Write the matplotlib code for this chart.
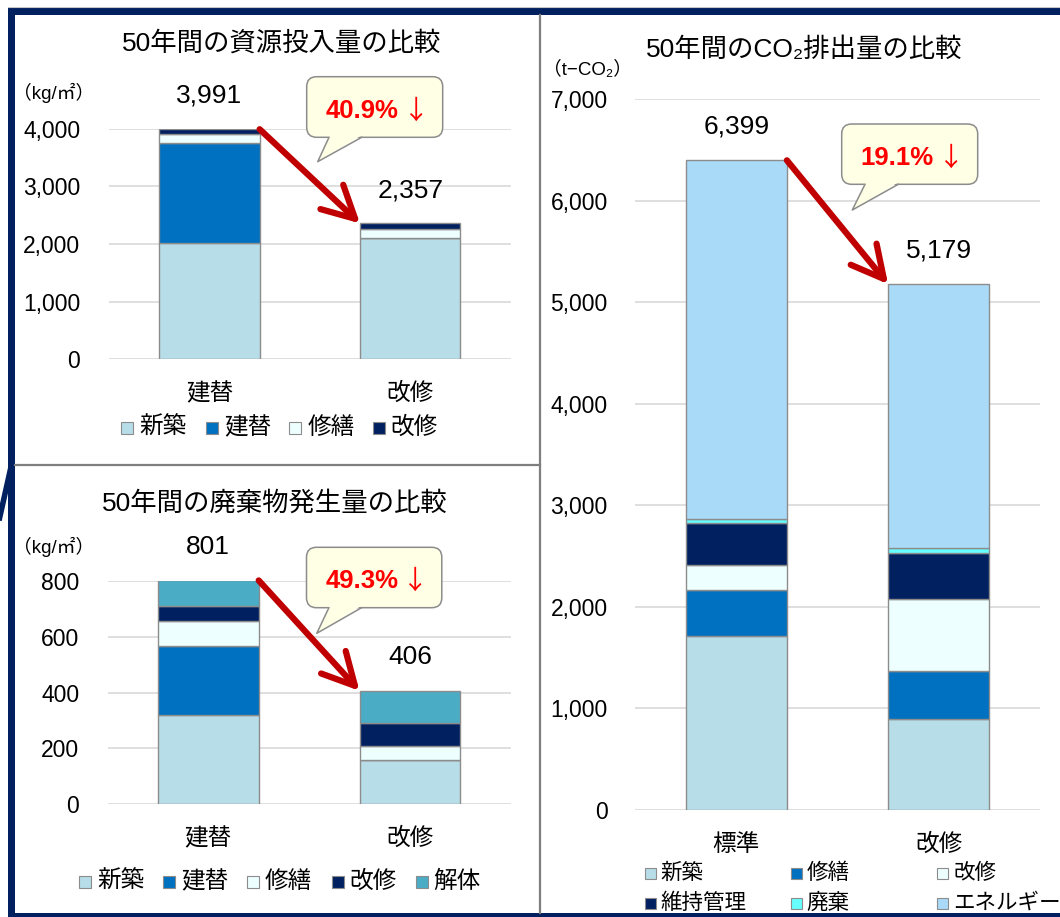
import matplotlib
matplotlib.use('Agg')
import matplotlib.pyplot as plt
from matplotlib.patches import Rectangle, FancyBboxPatch, Polygon

plt.rcParams['font.family'] = ['Liberation Sans', 'Noto Sans CJK JP', 'DejaVu Sans']

W, H = 1060, 917

# 50年間の資源投入量 (kg/㎡)
res_cats = ['建替', '改修']
res_labels = ['新築', '建替', '修繕', '改修']
res_shinchiku = [2025, 2110]
res_tatekae = [1730, 0]
res_shuzen = [150, 150]
res_kaishu = [86, 97]

# 50年間の廃棄物発生量 (kg/㎡)
waste_cats = ['建替', '改修']
waste_labels = ['新築', '建替', '修繕', '改修', '解体']
waste_shinchiku = [320, 158]
waste_tatekae = [246, 0]
waste_shuzen = [90, 51]
waste_kaishu = [52, 82]
waste_kaitai = [93, 115]

# 50年間のCO2排出量 (t-CO2)
co2_cats = ['標準', '改修']
co2_labels = ['新築', '修繕', '改修', '維持管理', '廃棄', 'エネルギー']
co2_shinchiku = [1713, 893]
co2_shuzen = [452, 478]
co2_kaishu = [246, 706]
co2_iji = [417, 455]
co2_haiki = [43, 47]
co2_energy = [3528, 2600]

NAVY = '#002060'
C_NEW = '#B7DDE8'
C_BLUE = '#0070C0'
C_WHITE = '#EEFFFF'
C_DARK = '#002060'
C_TEAL = '#4BACC6'
C_CYAN = '#66FFFF'
C_SKY = '#A9DBF9'
EDGE = '#8C8C8C'

fig = plt.figure(figsize=(W / 100, H / 100), dpi=100)


def px_axes(x0, y_top, x1, y_bot):
    return fig.add_axes([x0 / W, 1 - y_bot / H, (x1 - x0) / W, (y_bot - y_top) / H])


def stacked(ax, cats, series, colors, ymax, step, ypad):
    x = list(range(len(cats)))
    bottoms = [0] * len(cats)
    for vals, c in zip(series, colors):
        ax.bar(x, vals, 0.5, bottom=bottoms, color=c, edgecolor=EDGE, linewidth=1.0, zorder=3)
        bottoms = [b + v for b, v in zip(bottoms, vals)]
    ax.set_xlim(-0.5, len(cats) - 0.5)
    ax.set_ylim(0, ymax)
    ax.set_yticks(range(0, ymax + 1, step))
    ax.yaxis.set_major_formatter(lambda v, p: f'{v:,.0f}')
    ax.set_xticks(x)
    ax.set_xticklabels(cats, fontsize=17)
    ax.tick_params(axis='y', length=0, pad=ypad, labelsize=16.5)
    ax.tick_params(axis='x', length=0, pad=17)
    ax.grid(axis='y', color='#D9D9D9', linewidth=1.2, zorder=0)
    ax.set_axisbelow(True)
    for s in ax.spines.values():
        s.set_visible(False)
    ax.patch.set_alpha(0)
    # 合計値と矢印
    for i, t in enumerate(bottoms):
        ax.annotate(f'{t:,}', xy=(i, t), xytext=(0, 24), textcoords='offset points',
                    ha='center', va='center', fontsize=19)
    ax.annotate('', xy=(0.75, bottoms[1]), xytext=(0.25, bottoms[0]),
                arrowprops=dict(arrowstyle='->,head_length=2.3,head_width=1.2', mutation_scale=10,
                                color='#C00000', lw=4.5, shrinkA=0, shrinkB=0))
    return bottoms


ax1 = px_axes(109, 128.7, 510.7, 359.3)
tot1 = stacked(ax1, res_cats, [res_shinchiku, res_tatekae, res_shuzen, res_kaishu],
               [C_NEW, C_BLUE, C_WHITE, C_DARK], 4000, 1000, 20.7)

ax2 = px_axes(107.5, 580.7, 510.7, 804.3)
tot2 = stacked(ax2, waste_cats, [waste_shinchiku, waste_tatekae, waste_shuzen, waste_kaishu, waste_kaitai],
               [C_NEW, C_BLUE, C_WHITE, C_DARK, C_TEAL], 800, 200, 20.4)

ax3 = px_axes(635, 99.3, 1040, 810)
tot3 = stacked(ax3, co2_cats, [co2_shinchiku, co2_shuzen, co2_kaishu, co2_iji, co2_haiki, co2_energy],
               [C_NEW, C_BLUE, C_WHITE, C_DARK, C_CYAN, C_SKY], 7000, 1000, 19.7)

# 枠・吹き出し・凡例 (ピクセル座標)
ov = fig.add_axes([0, 0, 1, 1])
ov.set_xlim(0, W)
ov.set_ylim(H, 0)
ov.axis('off')

ov.plot([8, W], [7, 7], color='#C8C8C8', lw=0.8)
ov.add_patch(Rectangle((8, 8), W, 7, fc=NAVY, ec='none'))
ov.add_patch(Rectangle((8, 8), 7, H, fc=NAVY, ec='none'))
ov.add_patch(Rectangle((8, 913), W, 10, fc=NAVY, ec='none'))
ov.plot([-2, 11], [525, 467], color=NAVY, lw=4, solid_capstyle='butt')
ov.plot([540, 540], [15, 913], color='#7F7F7F', lw=1.6)
ov.plot([15, 540], [465, 465], color='#7F7F7F', lw=1.6)

ov.text(282, 43, '50年間の資源投入量の比較', fontsize=19, ha='center', va='center')
ov.text(274.6, 503, '50年間の廃棄物発生量の比較', fontsize=19, ha='center', va='center')
ov.text(804, 50, '50年間のCO₂排出量の比較', fontsize=19, ha='center', va='center')
ov.text(13, 93, '（kg/㎡）', fontsize=13.5, ha='left', va='center')
ov.text(13, 547, '（kg/㎡）', fontsize=13.5, ha='left', va='center')
ov.text(543, 70, '（t−CO₂）', fontsize=13.5, ha='left', va='center')


def callout(box, base, tip, pct):
    x0, y0, x1, y1 = box
    ov.add_patch(FancyBboxPatch((x0, y0), x1 - x0, y1 - y0, boxstyle='round,pad=0,rounding_size=10',
                                fc='#FFFFE6', ec=EDGE, lw=1.1))
    ov.add_patch(Polygon([(base[0], y1 - 2), tip, (base[1], y1 - 2)], closed=True, fc='#FFFFE6', ec='none'))
    ov.plot([base[0], tip[0], base[1]], [y1, tip[1], y1], color=EDGE, lw=1.1)
    ym = (y0 + y1) / 2 + 4
    ov.text(x0 + 92, ym, f'{pct:.1f}%', color='#FF0000', fontsize=18.5,
            fontweight='bold', ha='right', va='center')
    ov.text(x0 + 109, ym, '↓', color='#FF0000', fontsize=19, family='Noto Sans CJK JP',
            ha='center', va='center')


callout((306.7, 76.7, 442.7, 137.3), (329, 361.7), (317.7, 161.7), (1 - tot1[1] / tot1[0]) * 100)
callout((306.5, 547.3, 441.8, 607.7), (328.9, 361.6), (316.8, 633.3), (1 - tot2[1] / tot2[0]) * 100)
callout((841.7, 124, 977.7, 184.3), (865, 898.3), (852.3, 210), (1 - tot3[1] / tot3[0]) * 100)


def legend(sq_x, txt_x, ys, labels, colors, size, fs):
    for sx, tx, y, lab, c in zip(sq_x, txt_x, ys, labels, colors):
        ov.add_patch(Rectangle((sx, y - size / 2), size, size, fc=c, ec=EDGE, lw=0.8))
        ov.text(tx, y, lab, fontsize=fs, ha='left', va='center')


legend([121.2, 205.6, 289.3, 373], [139.5, 223.8, 307.5, 390.8], [428] * 4,
       res_labels, [C_NEW, C_BLUE, C_WHITE, C_DARK], 12, 17)
legend([79.2, 162.9, 247.2, 331.6, 415.6], [97, 181.5, 265, 349.5, 433.2], [881.7] * 5,
       waste_labels, [C_NEW, C_BLUE, C_WHITE, C_DARK, C_TEAL], 12, 17)
legend([645, 790.7, 936.7, 645, 790.7, 936.7], [660.7, 806.7, 953.3, 660.7, 806.7, 953.3],
       [873.3, 873.3, 873.3, 903.3, 903.3, 903.3],
       co2_labels, [C_NEW, C_BLUE, C_WHITE, C_DARK, C_CYAN, C_SKY], 11, 15.5)

fig.savefig('out.png', dpi=100)
